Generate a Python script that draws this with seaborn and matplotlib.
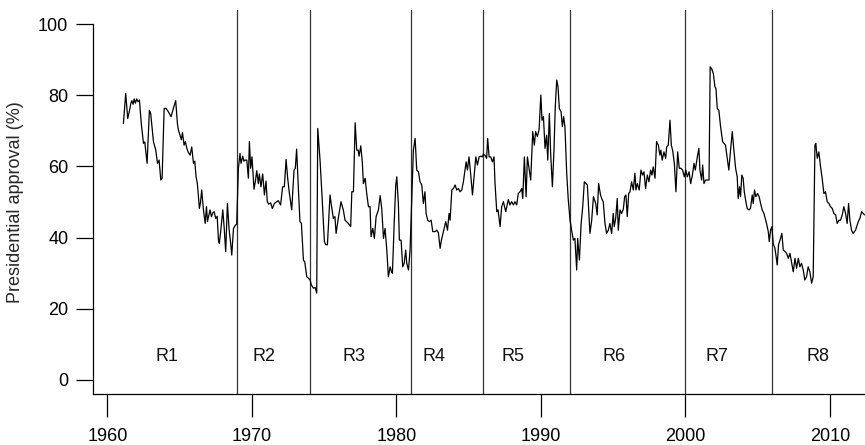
import numpy as np
import pandas as pd
import matplotlib
matplotlib.use("Agg")
import matplotlib.pyplot as plt
import seaborn as sns

# Monthly presidential approval (%), split by regime
r1_year = [1961.11, 1961.27, 1961.41, 1961.55, 1961.62, 1961.70, 1961.78, 1961.86, 1961.94, 1962.03,
           1962.12, 1962.22, 1962.35, 1962.50, 1962.59, 1962.75, 1962.91, 1963.00, 1963.19, 1963.35,
           1963.47, 1963.58, 1963.70, 1963.79, 1963.93, 1964.07, 1964.25, 1964.41, 1964.58, 1964.73,
           1964.85, 1964.92, 1965.03, 1965.12, 1965.20, 1965.31, 1965.40, 1965.50, 1965.60, 1965.73,
           1965.84, 1965.96, 1966.05, 1966.14, 1966.23, 1966.37, 1966.45, 1966.53, 1966.65, 1966.77,
           1966.86, 1966.93, 1967.00, 1967.11, 1967.20, 1967.30, 1967.39, 1967.50, 1967.60, 1967.69,
           1967.75, 1967.85, 1967.99, 1968.08, 1968.19, 1968.31, 1968.43, 1968.52, 1968.61, 1968.73,
           1968.86, 1968.95]
r1_approval = [72.1, 80.5, 73.5, 76.0, 77.7, 78.5, 77.5, 79.0, 77.8, 79.0,
               78.2, 78.7, 72.0, 66.5, 66.9, 60.9, 75.8, 74.9, 67.0, 64.6,
               60.9, 61.8, 56.2, 56.7, 76.3, 76.3, 75.2, 74.0, 76.5, 78.5,
               72.0, 70.2, 68.8, 67.5, 69.5, 66.0, 67.0, 65.1, 64.0, 63.2,
               65.5, 60.9, 61.5, 57.1, 55.2, 48.2, 50.0, 53.4, 47.8, 44.0,
               48.7, 44.5, 45.9, 47.8, 45.9, 47.0, 47.3, 45.4, 46.0, 39.3,
               38.4, 42.0, 47.8, 43.1, 36.1, 49.6, 42.1, 39.0, 35.1, 42.6,
               43.5, 43.8]

r2_year = [1969.07, 1969.18, 1969.25, 1969.37, 1969.45, 1969.53, 1969.65, 1969.76, 1969.83, 1969.92,
           1970.01, 1970.15, 1970.25, 1970.34, 1970.45, 1970.52, 1970.63, 1970.75, 1970.87, 1970.98,
           1971.07, 1971.17, 1971.30, 1971.42, 1971.56, 1971.72, 1971.83, 1971.99, 1972.13, 1972.25,
           1972.37, 1972.48, 1972.60, 1972.76, 1972.92, 1973.01, 1973.10, 1973.22, 1973.33, 1973.43,
           1973.57, 1973.66, 1973.80, 1973.92, 1974.03, 1974.12, 1974.26, 1974.38, 1974.49]
r2_approval = [59.5, 63.7, 60.9, 62.9, 61.5, 61.8, 61.8, 56.7, 67.0, 59.5,
               62.7, 53.6, 56.0, 58.8, 55.2, 57.9, 54.3, 57.9, 52.0, 55.9,
               50.1, 49.4, 49.8, 48.2, 49.6, 50.1, 50.4, 49.2, 54.3, 54.3,
               62.0, 56.7, 52.4, 47.8, 59.0, 59.5, 64.9, 53.8, 44.5, 44.0,
               33.7, 33.2, 29.0, 28.6, 28.1, 26.7, 25.8, 26.0, 24.4]

r3_year = [1974.56, 1974.72, 1974.86, 1975.02, 1975.12, 1975.23, 1975.41, 1975.52, 1975.64, 1975.75,
           1975.83, 1976.00, 1976.17, 1976.33, 1976.45, 1976.68, 1976.84, 1976.92, 1977.03, 1977.15,
           1977.26, 1977.36, 1977.42, 1977.54, 1977.65, 1977.72, 1977.84, 1977.95, 1978.07, 1978.18,
           1978.25, 1978.37, 1978.48, 1978.60, 1978.76, 1978.88, 1978.99, 1979.11, 1979.22, 1979.34,
           1979.45, 1979.57, 1979.66, 1979.73, 1979.85, 1979.96, 1980.03, 1980.14, 1980.21, 1980.33,
           1980.44, 1980.54, 1980.65, 1980.72, 1980.84, 1980.95]
r3_approval = [70.7, 61.8, 51.5, 38.9, 38.0, 38.0, 52.0, 48.7, 45.4, 45.9,
               41.2, 45.9, 50.1, 47.8, 44.9, 44.0, 43.1, 52.9, 52.9, 72.3,
               64.6, 64.6, 62.9, 65.8, 60.9, 55.2, 56.7, 52.4, 48.7, 48.7,
               40.3, 42.6, 39.8, 45.9, 47.8, 51.8, 48.2, 39.8, 42.6, 36.5,
               29.0, 31.8, 30.5, 30.0, 44.0, 54.8, 57.1, 49.6, 39.3, 39.3,
               31.8, 32.8, 36.5, 32.8, 30.9, 36.5]

r4_year = [1981.07, 1981.18, 1981.30, 1981.41, 1981.53, 1981.64, 1981.76, 1981.87, 1981.98, 1982.06,
           1982.17, 1982.29, 1982.41, 1982.52, 1982.68, 1982.80, 1982.91, 1983.03, 1983.12, 1983.26,
           1983.42, 1983.54, 1983.65, 1983.72, 1983.84, 1983.95, 1984.07, 1984.18, 1984.30, 1984.41,
           1984.53, 1984.64, 1984.83, 1984.92, 1985.03, 1985.15, 1985.27, 1985.38, 1985.50, 1985.61,
           1985.73, 1985.85, 1985.95]
r4_approval = [51.5, 64.6, 67.9, 59.0, 58.5, 55.7, 54.8, 49.6, 52.9, 46.8,
               44.9, 44.5, 44.9, 41.7, 41.7, 42.1, 41.4, 37.0, 39.3, 41.7,
               44.5, 42.1, 46.8, 44.9, 53.4, 53.8, 54.8, 53.4, 53.8, 52.9,
               53.4, 55.7, 61.3, 59.0, 62.7, 57.6, 52.0, 57.1, 62.7, 60.4,
               62.7, 62.9, 62.7]

r5_year = [1986.02, 1986.13, 1986.25, 1986.32, 1986.42, 1986.53, 1986.65, 1986.76, 1986.83, 1986.95,
           1987.04, 1987.18, 1987.29, 1987.41, 1987.57, 1987.75, 1987.86, 1987.98, 1988.10, 1988.21,
           1988.33, 1988.44, 1988.56, 1988.68, 1988.75, 1988.86, 1988.98, 1989.07, 1989.18, 1989.30,
           1989.44, 1989.55, 1989.64, 1989.76, 1989.88, 1990.00, 1990.08, 1990.18, 1990.29, 1990.40,
           1990.48, 1990.59, 1990.68, 1990.80, 1990.91, 1991.00, 1991.10, 1991.19, 1991.28, 1991.40,
           1991.49, 1991.58, 1991.67, 1991.79, 1991.90]
r5_approval = [63.5, 63.2, 62.3, 67.9, 62.7, 62.7, 61.3, 62.7, 55.2, 47.3,
               47.8, 43.1, 48.7, 50.1, 47.3, 50.7, 49.2, 50.1, 49.2, 50.1,
               49.2, 52.4, 52.9, 53.8, 51.0, 62.7, 51.5, 62.7, 59.5, 56.2,
               69.8, 66.0, 69.8, 68.4, 70.4, 80.1, 73.0, 74.0, 65.1, 68.8,
               61.8, 74.9, 63.7, 54.3, 64.6, 76.8, 84.3, 82.4, 76.3, 75.4,
               71.2, 74.0, 71.0, 58.1, 50.6]

r6_year = [1992.02, 1992.13, 1992.25, 1992.36, 1992.48, 1992.55, 1992.67, 1992.79, 1992.90, 1993.01,
           1993.13, 1993.22, 1993.31, 1993.40, 1993.52, 1993.64, 1993.80, 1993.90, 1994.00, 1994.13,
           1994.25, 1994.32, 1994.44, 1994.55, 1994.67, 1994.78, 1994.90, 1995.01, 1995.08, 1995.18,
           1995.29, 1995.36, 1995.48, 1995.59, 1995.71, 1995.80, 1995.89, 1995.98, 1996.08, 1996.17,
           1996.28, 1996.40, 1996.51, 1996.58, 1996.68, 1996.81, 1996.93, 1997.04, 1997.14, 1997.25,
           1997.37, 1997.48, 1997.60, 1997.69, 1997.78, 1997.90, 1998.01, 1998.13, 1998.24, 1998.31,
           1998.40, 1998.52, 1998.64, 1998.71, 1998.82, 1998.94, 1999.03, 1999.12, 1999.24, 1999.35,
           1999.47, 1999.58, 1999.70, 1999.81, 1999.93]
r6_approval = [44.9, 42.1, 39.3, 39.8, 30.9, 39.8, 33.7, 44.0, 48.7, 55.7,
               55.2, 54.8, 47.8, 41.2, 44.9, 51.5, 49.6, 46.4, 55.2, 52.0,
               50.6, 50.1, 44.0, 41.2, 42.1, 44.0, 41.2, 46.8, 43.1, 45.4,
               51.0, 42.1, 47.8, 46.8, 48.0, 51.5, 52.0, 45.9, 52.4, 52.9,
               55.7, 53.4, 58.1, 53.4, 55.2, 53.4, 59.0, 57.6, 58.5, 53.8,
               57.6, 55.7, 59.0, 57.6, 59.9, 56.7, 67.0, 66.0, 63.2, 64.6,
               61.8, 64.1, 62.3, 65.5, 66.0, 73.0, 66.0, 64.6, 60.9, 52.9,
               64.1, 59.5, 59.5, 59.0, 57.1]

r7_year = [2000.03, 2000.14, 2000.26, 2000.37, 2000.49, 2000.60, 2000.69, 2000.83, 2000.94, 2001.01,
           2001.13, 2001.20, 2001.29, 2001.40, 2001.52, 2001.64, 2001.72, 2001.82, 2001.94, 2002.05,
           2002.12, 2002.21, 2002.32, 2002.44, 2002.58, 2002.68, 2002.78, 2002.90, 2003.01, 2003.13,
           2003.25, 2003.36, 2003.48, 2003.59, 2003.66, 2003.75, 2003.82, 2003.91, 2004.00, 2004.08,
           2004.17, 2004.28, 2004.40, 2004.51, 2004.63, 2004.70, 2004.79, 2004.88, 2005.00, 2005.11,
           2005.21, 2005.32, 2005.44, 2005.53, 2005.62, 2005.74, 2005.81, 2005.90, 2005.99]
r7_approval = [59.0, 57.1, 58.5, 55.2, 57.6, 60.9, 59.0, 62.7, 65.1, 59.0,
               56.2, 60.4, 55.2, 56.2, 56.2, 56.2, 88.0, 87.5, 86.1, 82.4,
               81.9, 76.3, 75.8, 71.2, 67.0, 66.5, 66.0, 62.3, 59.0, 64.6,
               69.8, 64.6, 59.5, 57.1, 51.0, 54.3, 51.5, 57.6, 56.7, 52.9,
               50.6, 48.2, 47.8, 48.2, 52.0, 49.6, 53.4, 51.5, 52.4, 51.5,
               49.6, 47.8, 46.8, 45.4, 44.0, 41.7, 38.9, 42.1, 43.1]

r8_year = [2006.08, 2006.20, 2006.27, 2006.36, 2006.45, 2006.59, 2006.68, 2006.78, 2006.90, 2007.01,
           2007.13, 2007.24, 2007.36, 2007.47, 2007.59, 2007.70, 2007.82, 2007.93, 2008.04, 2008.16,
           2008.27, 2008.39, 2008.50, 2008.62, 2008.74, 2008.85, 2008.97, 2009.03, 2009.13, 2009.24,
           2009.36, 2009.47, 2009.59, 2009.70, 2009.82, 2009.94, 2010.05, 2010.17, 2010.28, 2010.40,
           2010.51, 2010.63, 2010.74, 2010.86, 2010.97, 2011.09, 2011.20, 2011.30, 2011.39, 2011.50,
           2011.61, 2011.78, 2011.97, 2012.08, 2012.20, 2012.31, 2012.40]
r8_approval = [38.4, 37.0, 35.1, 32.3, 38.0, 39.8, 41.2, 36.5, 36.1, 35.6,
               34.2, 35.6, 32.8, 30.4, 34.2, 31.4, 34.2, 31.8, 32.8, 30.9,
               28.1, 29.0, 31.8, 30.4, 27.2, 29.0, 66.0, 66.5, 62.3, 64.1,
               59.9, 56.7, 52.4, 52.9, 50.1, 49.6, 48.7, 48.2, 46.8, 46.4,
               44.0, 44.9, 44.9, 46.4, 48.7, 46.8, 44.0, 49.6, 44.9, 42.1,
               41.2, 42.1, 44.5, 45.4, 47.3, 46.8, 46.4]

# Regime boundaries and label positions
breaks = [1969, 1974, 1981, 1986, 1992, 2000, 2006]
regime_labels = ["R1", "R2", "R3", "R4", "R5", "R6", "R7", "R8"]
label_x = [1964.13, 1970.85, 1977.1, 1982.64, 1988.1, 1995.1, 2002.16, 2009.16]
label_y = 6.5

x_ticks = [1960, 1970, 1980, 1990, 2000, 2010]
y_ticks = [0, 20, 40, 60, 80, 100]

years = r1_year + r2_year + r3_year + r4_year + r5_year + r6_year + r7_year + r8_year
approval = (r1_approval + r2_approval + r3_approval + r4_approval
            + r5_approval + r6_approval + r7_approval + r8_approval)
df = pd.DataFrame({"year": years, "approval": approval})

sns.set_style("ticks")
plt.rcParams["font.family"] = ["Liberation Sans", "DejaVu Sans"]
plt.rcParams["font.size"] = 13

fig = plt.figure(figsize=(8.65, 4.45), dpi=100)
ax = fig.add_axes([0.1079, 0.1142, 0.9276, 0.8634])

sns.lineplot(data=df, x="year", y="approval", ax=ax, color="black",
             linewidth=0.9, estimator=None, sort=False)

for b in breaks:
    ax.axvline(b, color="#333333", linewidth=0.9, zorder=1)

for lab, lx in zip(regime_labels, label_x):
    ax.text(lx, label_y, lab, ha="center", va="center", fontsize=13, color="#111111")

ax.set_xlim(1959.03, 2014.56)
ax.set_ylim(-4, 104)
ax.set_xticks(x_ticks)
ax.set_yticks(y_ticks)
ax.set_xlabel("")
ax.set_ylabel("Presidential approval (%)", fontsize=13, va="center")
ax.yaxis.set_label_coords(-0.0966, 0.5)

for side in ["top", "right"]:
    ax.spines[side].set_visible(False)
ax.spines["left"].set_bounds(-4, 100)
for side in ["left", "bottom"]:
    ax.spines[side].set_linewidth(0.9)
    ax.spines[side].set_color("black")

ax.tick_params(axis="y", length=12.5, width=0.9, pad=5.5, labelsize=13, colors="black")
ax.tick_params(axis="x", length=16.6, width=0.9, pad=8, labelsize=13, colors="black")

fig.savefig("out.png", dpi=100)
